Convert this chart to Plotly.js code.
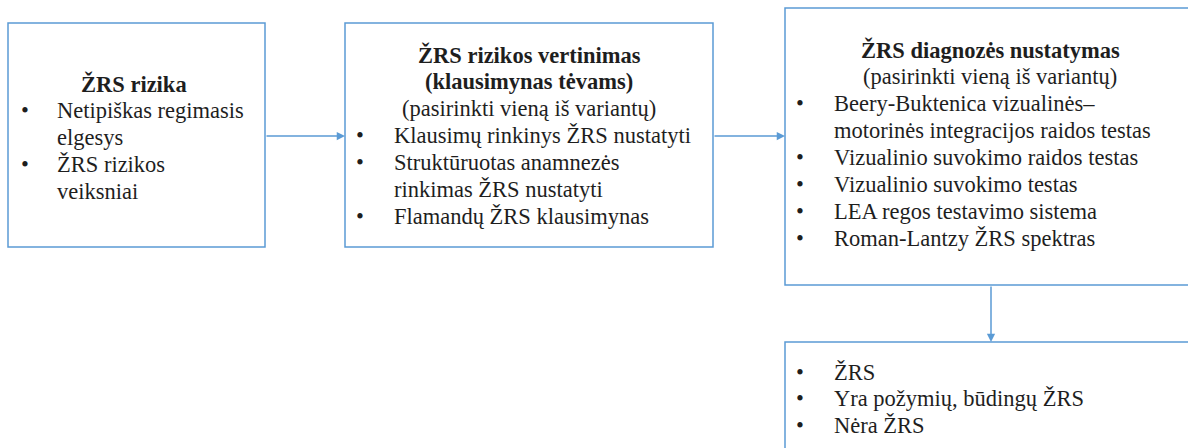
<!DOCTYPE html>
<html>
<head>
<meta charset="utf-8">
<script src="https://cdn.plot.ly/plotly-3.0.1.min.js"></script>
<style>html,body{margin:0;padding:0;background:#fff;}#chart{width:1188px;height:448px;}</style>
</head>
<body>
<div id="chart"></div>
<script>
// ---- content (text data) ----
const boxTitles = [
  ["ŽRS rizika"],
  ["ŽRS rizikos vertinimas", "(klausimynas tėvams)"],
  ["ŽRS diagnozės nustatymas"],
  []
];
const boxSubtitles = [
  null,
  "(pasirinkti vieną iš variantų)",
  "(pasirinkti vieną iš variantų)",
  null
];
const boxItems = [
  [["Netipiškas regimasis", "elgesys"], ["ŽRS rizikos", "veiksniai"]],
  [["Klausimų rinkinys ŽRS nustatyti"], ["Struktūruotas anamnezės", "rinkimas ŽRS nustatyti"], ["Flamandų ŽRS klausimynas"]],
  [["Beery-Buktenica vizualinės–", "motorinės integracijos raidos testas"], ["Vizualinio suvokimo raidos testas"], ["Vizualinio suvokimo testas"], ["LEA regos testavimo sistema"], ["Roman-Lantzy ŽRS spektras"]],
  [["ŽRS"], ["Yra požymių, būdingų ŽRS"], ["Nėra ŽRS"]]
];
const links = [[0, 1], [1, 2], [2, 3]];

// ---- geometry / style (layout) ----
const geom = [
  {x0: 8,   y0: 23,  x1: 265,  y1: 247, cx: 134, firstY: 84,  bulletX: 25,  textX: 55},
  {x0: 345, y0: 23,  x1: 713,  y1: 247, cx: 529, firstY: 55,  bulletX: 360, textX: 392},
  {x0: 785, y0: 8,   x1: 1196, y1: 285, cx: 990, firstY: 50,  bulletX: 800, textX: 832},
  {x0: 785, y0: 342, x1: 1196, y1: 470, cx: 990, firstY: 372, bulletX: 800, textX: 832}
];
const STEP = 26.9;
const FS = 22.5;
const FONT = "Liberation Serif";
const TXT = "#1e1e1e";
const BLUE = "#5b9bd5";

const shapes = [];
const annotations = [];

geom.forEach((g, i) => {
  shapes.push({type: "rect", xref: "x", yref: "y", x0: g.x0, y0: g.y0, x1: g.x1, y1: g.y1,
    line: {color: BLUE, width: 1.5}, fillcolor: "rgba(0,0,0,0)", layer: "below"});
  let y = g.firstY;
  boxTitles[i].forEach(t => {
    annotations.push({x: g.cx, y: y, xref: "x", yref: "y", text: "<b>" + t + "</b>", showarrow: false,
      xanchor: "center", yanchor: "middle", font: {family: FONT, size: FS, color: TXT}});
    y += STEP;
  });
  if (boxSubtitles[i]) {
    annotations.push({x: g.cx, y: y, xref: "x", yref: "y", text: boxSubtitles[i], showarrow: false,
      xanchor: "center", yanchor: "middle", font: {family: FONT, size: FS, color: TXT}});
    y += STEP;
  }
  boxItems[i].forEach(item => {
    annotations.push({x: g.bulletX, y: y, xref: "x", yref: "y", text: "•", showarrow: false,
      xanchor: "center", yanchor: "middle", font: {family: FONT, size: FS, color: TXT}});
    item.forEach(line => {
      annotations.push({x: g.textX, y: y, xref: "x", yref: "y", text: line, showarrow: false,
        xanchor: "left", yanchor: "middle", font: {family: FONT, size: FS, color: TXT}});
      y += STEP;
    });
  });
});

// connectors
const arrowPts = [
  {tx: 265, ty: 136, hx: 345, hy: 136},
  {tx: 713, ty: 136, hx: 785, hy: 136},
  {tx: 991, ty: 285, hx: 991, hy: 342}
];
links.forEach((l, k) => {
  const a = arrowPts[k];
  annotations.push({x: a.hx, y: a.hy, ax: a.tx, ay: a.ty, xref: "x", yref: "y", axref: "x", ayref: "y",
    text: "", showarrow: true, arrowhead: 2, arrowsize: 1.1, arrowwidth: 1.5, arrowcolor: BLUE,
    standoff: 0, startstandoff: 0});
});

const layout = {
  width: 1188, height: 448,
  margin: {l: 0, r: 0, t: 0, b: 0},
  paper_bgcolor: "#ffffff", plot_bgcolor: "#ffffff",
  font: {family: FONT},
  xaxis: {range: [0, 1188], visible: false, fixedrange: true},
  yaxis: {range: [448, 0], visible: false, fixedrange: true},
  shapes: shapes,
  annotations: annotations,
  showlegend: false
};

Plotly.newPlot("chart", [], layout, {staticPlot: true, displayModeBar: false});
</script>
</body>
</html>
